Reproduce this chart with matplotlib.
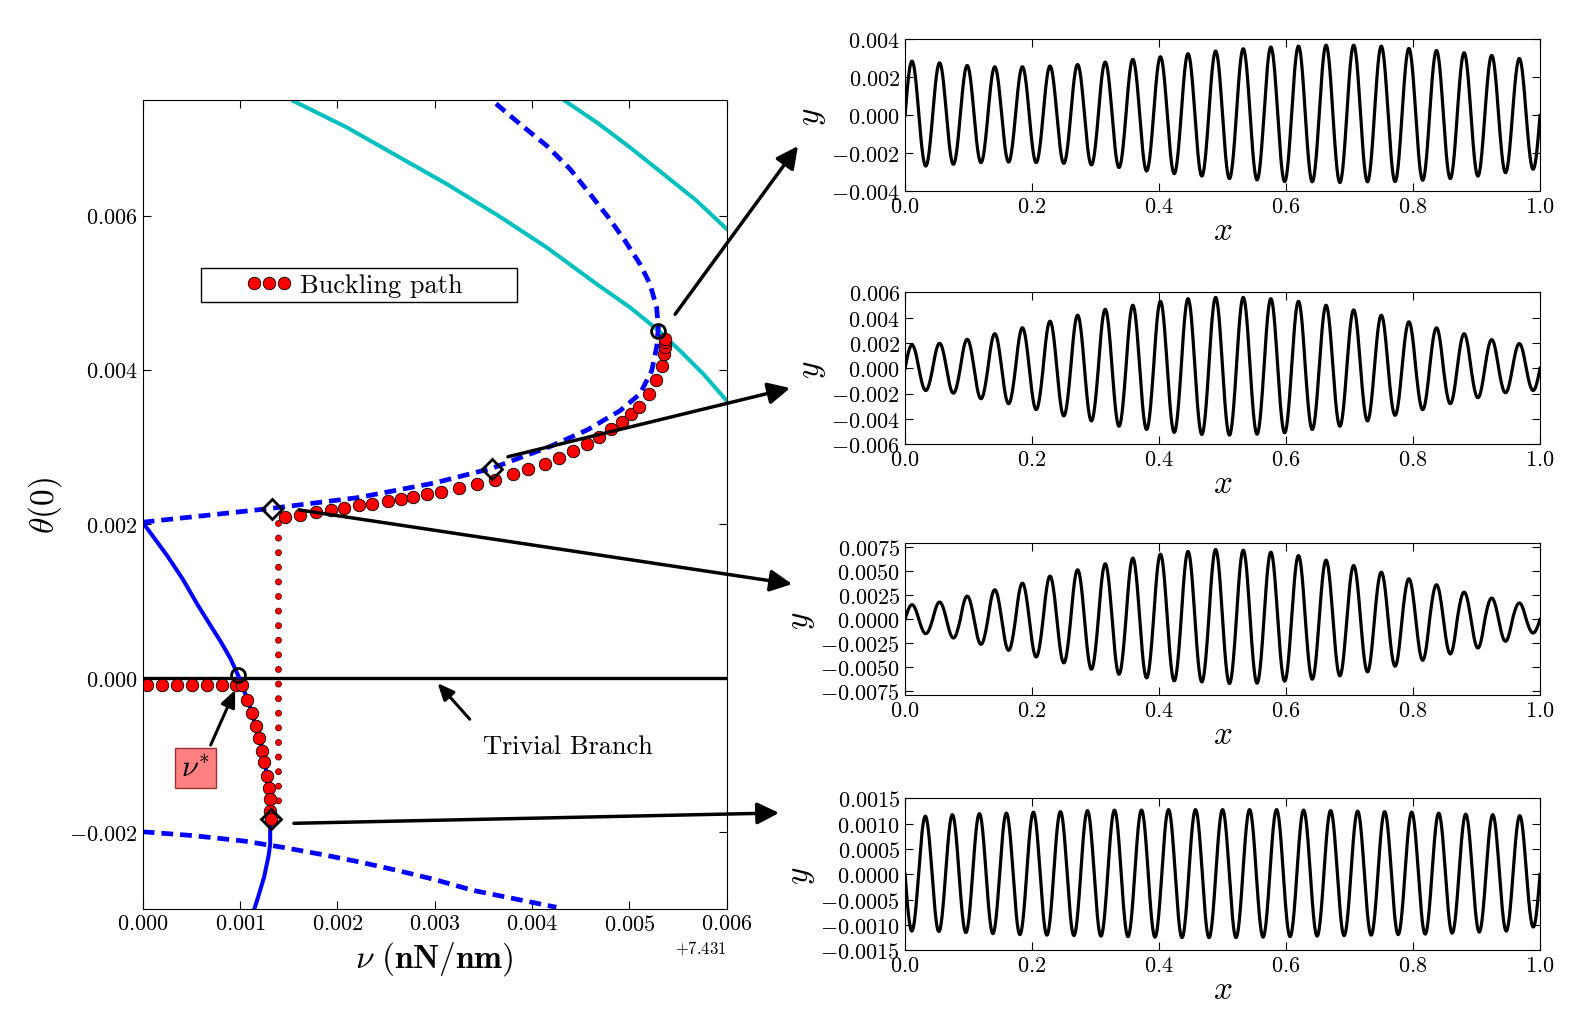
import numpy as np
import matplotlib
matplotlib.use("Agg")
import matplotlib.pyplot as plt
from matplotlib.patches import Rectangle
from matplotlib.ticker import ScalarFormatter, MultipleLocator

plt.rcParams['font.family'] = 'serif'
plt.rcParams['font.serif'] = ['cmr10']
plt.rcParams['mathtext.fontset'] = 'cm'
plt.rcParams['axes.formatter.use_mathtext'] = True
plt.rcParams['lines.scale_dashes'] = False
plt.rcParams['xtick.direction'] = 'in'
plt.rcParams['ytick.direction'] = 'in'
plt.rcParams['xtick.top'] = True
plt.rcParams['ytick.right'] = True
plt.rcParams['xtick.major.size'] = 6
plt.rcParams['ytick.major.size'] = 6

NU0 = 7.431

# ---- main diagram data (nu - 7.431, theta(0)) ----
solid_nu = [0.0, 0.000098, 0.000255, 0.000412, 0.000569, 0.000686, 0.000804, 0.000902,
            0.000992, 0.001059, 0.00112, 0.001176, 0.00124, 0.001267, 0.00129, 0.00131,
            0.00131, 0.00131, 0.001294, 0.001247, 0.001184, 0.00115]
solid_th = [0.00202, 0.00185, 0.00158, 0.00128, 0.000938, 0.000701, 0.000465, 0.000249,
            0.0, -0.000224, -0.00044, -0.000697, -0.00095, -0.00119, -0.00143, -0.00164,
            -0.00186, -0.00216, -0.00231, -0.00259, -0.002856, -0.00299]

dash_up_nu = [0.0, 0.001325, 0.002216, 0.003, 0.003588, 0.00418, 0.00457, 0.004904,
              0.005109, 0.00523, 0.00528, 0.005298, 0.00528, 0.005212, 0.005109,
              0.004955, 0.004784, 0.004596, 0.00439, 0.00415, 0.003876, 0.003602]
dash_up_th = [0.00202, 0.0022, 0.00234, 0.00253, 0.00272, 0.003, 0.00322, 0.003468,
              0.003685, 0.003988, 0.004291, 0.004551, 0.00481, 0.005113, 0.005373,
              0.005676, 0.005979, 0.006282, 0.006607, 0.00691, 0.007191, 0.007485]

dash_lo_nu = [0.0, 0.00052, 0.00104, 0.00143, 0.00182, 0.00222, 0.00261, 0.003,
              0.00339, 0.00382, 0.00425]
dash_lo_th = [-0.002, -0.00205, -0.00212, -0.0022, -0.00229, -0.00239, -0.0025,
              -0.00262, -0.00276, -0.00287, -0.00298]

cyan1_nu = [0.001548, 0.002096, 0.002609, 0.003123, 0.003637, 0.00415, 0.004664,
            0.005006, 0.00528, 0.00552, 0.00576, 0.006]
cyan1_th = [0.00749, 0.007148, 0.00678, 0.006412, 0.006014, 0.005589, 0.005113,
            0.00481, 0.004529, 0.004248, 0.003945, 0.003598]
cyan2_nu = [0.004339, 0.004664, 0.005006, 0.005349, 0.005691, 0.006]
cyan2_th = [0.00749, 0.007213, 0.006888, 0.006542, 0.006195, 0.005827]

trivial_nu = [0.0, 0.006]
trivial_th = [0.0, 0.0]

jump_nu = [0.00139, 0.00139]
jump_th = [0.00201, -0.00165]

path_nu = [0.000047, 0.0002, 0.000353, 0.000506, 0.000659, 0.000812, 0.00096, 0.00102,
           0.00107, 0.00112, 0.00116, 0.0012, 0.00123, 0.00125, 0.00128, 0.0013,
           0.00131, 0.00131, 0.00132,
           0.00146, 0.00162, 0.00178, 0.00193, 0.00207, 0.00222, 0.00236, 0.00252,
           0.00265, 0.00278, 0.00292, 0.00306, 0.00325, 0.00343, 0.00362, 0.0038,
           0.00396, 0.00413, 0.00428, 0.00442, 0.00456, 0.00469, 0.00481, 0.00492,
           0.00502, 0.0051, 0.0052, 0.00527, 0.00534, 0.005356, 0.005366, 0.005366,
           0.005366]
path_th = [-0.0001, -0.0001, -0.0001, -0.0001, -0.0001, -0.0001, -0.0001, -0.0001,
           -0.00029, -0.00046, -0.00063, -0.00078, -0.00095, -0.0011, -0.00127, -0.00143,
           -0.00158, -0.00173, -0.00184,
           0.00209, 0.00212, 0.00215, 0.00218, 0.0022, 0.00224, 0.00226, 0.0023,
           0.00232, 0.00235, 0.00238, 0.00241, 0.00247, 0.00251, 0.00257, 0.00264,
           0.00271, 0.00278, 0.00286, 0.00294, 0.00303, 0.00312, 0.00323, 0.00332,
           0.00343, 0.00352, 0.00369, 0.00387, 0.00405, 0.0042, 0.0043, 0.00436,
           0.0044]

bif_nu = [0.00098, 0.005298]
bif_th = [0.00003, 0.004507]
mark_nu = [0.001325, 0.003588, 0.001314]
mark_th = [0.00219, 0.00271, -0.00184]

# ---- buckling modes: extremum value of each half wave ----
mode1_cycles = 23
mode1_peaks = [0.00286, 0.00277, 0.00263, 0.00256, 0.00256, 0.0026, 0.00268, 0.00281,
               0.00295, 0.00309, 0.00325, 0.00339, 0.00351, 0.0036, 0.00365, 0.0037,
               0.0037, 0.00365, 0.00353, 0.00342, 0.0033, 0.00316, 0.003]
mode1_troughs = [-0.00267, -0.00258, -0.00249, -0.00246, -0.00249, -0.00253, -0.00261,
                 -0.00275, -0.00293, -0.00307, -0.0032, -0.00333, -0.0034, -0.00349,
                 -0.0035, -0.00354, -0.0035, -0.00349, -0.00342, -0.00333, -0.0032,
                 -0.00302, -0.00284]

mode2_cycles = 23
mode2_peaks = [0.00185, 0.00198, 0.0023, 0.00274, 0.00321, 0.00373, 0.0042, 0.00467,
               0.00499, 0.0053, 0.00551, 0.00561, 0.00561, 0.00551, 0.0053, 0.00499,
               0.00462, 0.0042, 0.00368, 0.00321, 0.00274, 0.00227, 0.00196]
mode2_troughs = [-0.00175, -0.00196, -0.0024, -0.00279, -0.00326, -0.00376, -0.00415,
                 -0.00457, -0.00483, -0.00506, -0.00522, -0.00527, -0.0052, -0.00509,
                 -0.00483, -0.00457, -0.00415, -0.00371, -0.00326, -0.00279, -0.00232,
                 -0.00193, -0.00175]

mode3_cycles = 23
mode3_peaks = [0.00152, 0.0018, 0.00242, 0.00308, 0.00377, 0.0045, 0.00516, 0.00578,
               0.00637, 0.00678, 0.00706, 0.00727, 0.0072, 0.00699, 0.00664, 0.00616,
               0.00561, 0.00491, 0.00422, 0.0036, 0.00284, 0.00221, 0.0017]
mode3_troughs = [-0.00149, -0.00194, -0.0026, -0.00322, -0.00391, -0.00453, -0.00519,
                 -0.00571, -0.00609, -0.0064, -0.00651, -0.00668, -0.00664, -0.00644,
                 -0.00623, -0.00588, -0.00547, -0.00488, -0.00426, -0.0036, -0.00298,
                 -0.00228, -0.00142]

mode4_cycles = 23.5
mode4_troughs = [-0.00112, -0.00113, -0.00115, -0.00117, -0.00119, -0.0012, -0.00121,
                 -0.00122, -0.00123, -0.00124, -0.00125, -0.00125, -0.00125, -0.00124,
                 -0.00123, -0.00122, -0.00121, -0.0012, -0.00119, -0.00118, -0.00116,
                 -0.00114, -0.00112, -0.00104]
mode4_peaks = [0.00115, 0.00118, 0.0012, 0.00121, 0.00123, 0.00124, 0.00126, 0.00127,
               0.00127, 0.00128, 0.00128, 0.00128, 0.00128, 0.00128, 0.00127, 0.00126,
               0.00125, 0.00124, 0.00123, 0.00121, 0.00119, 0.00118, 0.00116]


def interleave(first, second):
    out = []
    for i in range(max(len(first), len(second))):
        if i < len(first):
            out.append(first[i])
        if i < len(second):
            out.append(second[i])
    return np.array(out)


def mode_shape(extrema, cycles, n=4000):
    x = np.linspace(0, 1, n)
    k = np.minimum((x * 2 * cycles).astype(int), len(extrema) - 1)
    return x, extrema[k] * np.abs(np.sin(2 * np.pi * cycles * x))


fig = plt.figure(figsize=(15.87, 10.12), dpi=100)

ax = fig.add_axes([0.0899, 0.101, 0.368, 0.799])
off = lambda v: NU0 + np.asarray(v)

ax.plot(off(cyan1_nu), cyan1_th, color='c', lw=2.9)
ax.plot(off(cyan2_nu), cyan2_th, color='c', lw=2.9)
ax.plot(off(trivial_nu), trivial_th, color='k', lw=2.4)
ax.plot(off(solid_nu), solid_th, color='b', lw=2.9)
ax.plot(off(dash_up_nu), dash_up_th, color='b', lw=3.4, dashes=(8.5, 5))
ax.plot(off(dash_lo_nu), dash_lo_th, color='b', lw=3.4, dashes=(8.5, 5))
# jump of the path: dark outline under red dots
ax.plot(off(jump_nu), jump_th, color='#600000', lw=5.0, dashes=(0.01, 10.5),
        dash_capstyle='round')
ax.plot(off(jump_nu), jump_th, color='r', lw=3.8, dashes=(0.01, 10.5),
        dash_capstyle='round')
ax.plot(off(path_nu), path_th, 'o', color='r', mec='k', mew=0.6, ms=9,
        label='Buckling path')
ax.plot(off(bif_nu), bif_th, 'o', mfc='none', mec='k', mew=2, ms=10)
ax.plot(off(mark_nu), mark_th, 'D', mfc='none', mec='k', mew=2, ms=10)

ax.set_xlim(NU0, NU0 + 0.006)
ax.set_ylim(-0.003, 0.0075)
ax.xaxis.set_major_locator(MultipleLocator(0.001))
ax.yaxis.set_major_locator(MultipleLocator(0.002))
fmt = ScalarFormatter(useOffset=NU0)
ax.xaxis.set_major_formatter(fmt)
ax.tick_params(labelsize=16)
ax.xaxis.get_offset_text().set_fontsize(12)
ax.set_xlabel(r'$\nu\ \mathbf{(nN/nm)}$', fontsize=24)
ax.set_ylabel(r'$\theta(0)$', fontsize=24)

# legend box drawn as a plain rectangle, entry centred inside it
ax.add_patch(Rectangle((0.0998, 0.7504), 0.5412, 0.0421, transform=ax.transAxes,
                       fc='w', ec='k', lw=1.0, zorder=4))
leg = ax.legend(loc='center', bbox_to_anchor=(0.362, 0.7714), numpoints=3,
                fontsize=19, frameon=False, handlelength=1.75, handletextpad=0.3,
                borderaxespad=0, borderpad=0)
leg.set_zorder(5)

ax.annotate('Trivial Branch', xy=(NU0 + 0.00303, -0.00007),
            xytext=(NU0 + 0.0035, -0.00089), ha='left', va='center',
            fontsize=19,
            arrowprops=dict(arrowstyle='-|>,head_length=0.5,head_width=0.22',
                            lw=2.2, color='k', mutation_scale=20, shrinkA=12,
                            shrinkB=0, relpos=(0, 1)))
ax.annotate(r'$\nu^{*}$', xy=(NU0 + 0.00095, -0.00016),
            xytext=(NU0 + 0.00054, -0.00117), ha='center', va='center',
            fontsize=22,
            bbox=dict(boxstyle='square,pad=0.2', fc=(1, 0.5, 0.5), ec=(0.6, 0.2, 0.2),
                      lw=1),
            arrowprops=dict(arrowstyle='-|>,head_length=0.5,head_width=0.22',
                            lw=2.2, color='k', mutation_scale=20, shrinkA=2,
                            shrinkB=0, relpos=(0.9, 1.0)))

# arrows from the diagram to the mode shapes
arrow_starts = [(0.00547, 0.00472), (0.003753, 0.00287), (0.001606, 0.00218),
                (0.001554, -0.00189)]
arrow_ends = [(0.5028, 0.8547), (0.4978, 0.6156), (0.4991, 0.4219), (0.4909, 0.1957)]
for (sx, sy), end in zip(arrow_starts, arrow_ends):
    ax.annotate('', xy=end, xycoords='figure fraction', xytext=(NU0 + sx, sy),
                textcoords='data', annotation_clip=False,
                arrowprops=dict(arrowstyle='-|>,head_length=0.6,head_width=0.3',
                                lw=2.5, color='k', mutation_scale=22,
                                shrinkA=0, shrinkB=0))

# right column: mode shapes
panels = [
    (interleave(mode1_peaks, mode1_troughs), mode1_cycles, 0.810, 0.004, 0.002),
    (interleave(mode2_peaks, mode2_troughs), mode2_cycles, 0.560, 0.006, 0.002),
    (interleave(mode3_peaks, mode3_troughs), mode3_cycles, 0.312, 0.0079, 0.0025),
    (interleave(mode4_troughs, mode4_peaks), mode4_cycles, 0.060, 0.0015, 0.0005),
]
for ext, cyc, bottom, lim, step in panels:
    a = fig.add_axes([0.5703, bottom, 0.4001, 0.150])
    xs, ys = mode_shape(ext, cyc)
    a.plot(xs, ys, color='k', lw=2.3)
    a.set_xlim(0, 1)
    a.set_ylim(-lim, lim)
    a.xaxis.set_major_locator(MultipleLocator(0.2))
    a.yaxis.set_major_locator(MultipleLocator(step))
    a.tick_params(labelsize=16)
    a.set_xlabel(r'$x$', fontsize=24, labelpad=0)
    a.set_ylabel(r'$y$', fontsize=24, labelpad=2)

fig.savefig('out.png', dpi=100)
